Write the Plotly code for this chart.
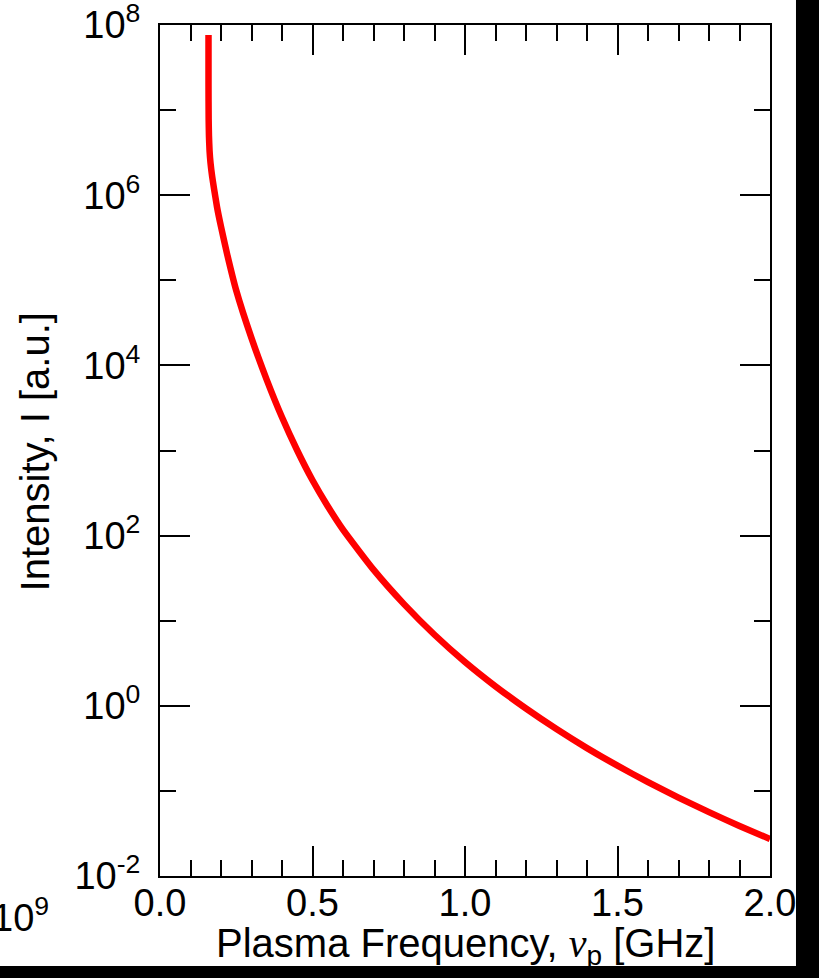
import plotly.graph_objects as go

# Plasma frequency [GHz] and log10 of intensity [a.u.] along the curve
nu_p = [0.1590, 0.1590, 0.1595, 0.1605, 0.1625, 0.1656, 0.1710, 0.1770,
        0.1870, 0.2000, 0.2200, 0.2500, 0.3000, 0.3500, 0.4000, 0.4500,
        0.5000, 0.5500, 0.6000, 0.7000, 0.8000, 0.9000, 1.0000, 1.1000,
        1.2000, 1.3000, 1.4000, 1.5000, 1.6000, 1.7000, 1.8000, 1.9000,
        2.0000]
log_intensity = [7.882, 7.300, 6.900, 6.700, 6.520, 6.380, 6.220, 6.080,
                 5.860, 5.630, 5.310, 4.880, 4.320, 3.830, 3.390, 3.000,
                 2.650, 2.345, 2.070, 1.600, 1.195, 0.835, 0.515, 0.229,
                 -0.032, -0.273, -0.497, -0.704, -0.898, -1.079, -1.250,
                 -1.412, -1.565]
intensity = [10 ** v for v in log_intensity]

# Axis ticks
x_major = [0.0, 0.5, 1.0, 1.5, 2.0]
x_major_text = ["0.0", "0.5", "1.0", "1.5", "2.0"]
x_minor = [round(0.1 * i, 1) for i in range(21) if i % 5]
y_major = [1e-2, 1e0, 1e2, 1e4, 1e6, 1e8]
y_major_text = ["10<sup>-2</sup>", "10<sup>0</sup>", "10<sup>2</sup>",
                "10<sup>4</sup>", "10<sup>6</sup>", "10<sup>8</sup>"]
y_minor = [1e-1, 1e1, 1e3, 1e5, 1e7]

FONT = "Liberation Sans, Arial, Helvetica, sans-serif"
TICK_SIZE = 38
TITLE_SIZE = 40

fig = go.Figure()
fig.add_trace(go.Scatter(
    x=nu_p, y=intensity, mode="lines",
    line=dict(color="#ff0000", width=6.5, shape="spline", smoothing=0.5),
    showlegend=False, hoverinfo="skip",
))

axis_common = dict(
    showline=True, linecolor="black", linewidth=2, mirror="ticks",
    ticks="inside", ticklen=30, tickwidth=2, tickcolor="black",
    showgrid=False, zeroline=False, ticklabeloverflow="allow",
    tickfont=dict(family=FONT, size=TICK_SIZE, color="black"),
)

fig.update_xaxes(
    range=[0, 2.0], tickvals=x_major, ticktext=x_major_text,
    minor=dict(tickvals=x_minor, ticks="inside", ticklen=16, tickwidth=2,
               tickcolor="black", showgrid=False),
    ticklabelstandoff=-8,
    **axis_common,
)
fig.update_yaxes(
    type="log", range=[-2, 8], tickvals=y_major, ticktext=y_major_text,
    minor=dict(tickvals=y_minor, ticks="inside", ticklen=16, tickwidth=2,
               tickcolor="black", showgrid=False),
    ticklabelstandoff=10,
    **axis_common,
)

# Axis titles
fig.add_annotation(
    text="Plasma Frequency, <i><span style=\"font-family:'Liberation Serif', 'Times New Roman', serif\">ν</span></i><sub>p</sub> [GHz]",
    xref="paper", yref="paper", x=0.5, y=-0.0823,
    xanchor="center", yanchor="middle", showarrow=False,
    font=dict(family=FONT, size=TITLE_SIZE, color="black"))
fig.add_annotation(
    text="Intensity, I [a.u.]", textangle=-90,
    xref="paper", yref="paper", x=-0.2049, y=0.4977,
    xanchor="center", yanchor="middle", showarrow=False,
    font=dict(family=FONT, size=TITLE_SIZE, color="black"))

# Black frame strips along the right and bottom edges of the page
fig.add_shape(type="rect", xref="paper", yref="paper",
              x0=1.0426, x1=1.2, y0=-0.2, y1=1.1,
              fillcolor="black", line_width=0, layer="above")
fig.add_shape(type="rect", xref="paper", yref="paper",
              x0=-0.3, x1=1.2, y0=-0.2, y1=-0.1058,
              fillcolor="black", line_width=0, layer="above")

# Label of the neighbouring panel, cut by the left page edge
fig.add_annotation(text="10<sup>9</sup>", xref="paper", yref="paper",
                   x=-0.178, y=-0.046, xanchor="right", yanchor="middle",
                   showarrow=False,
                   font=dict(family=FONT, size=TICK_SIZE, color="black"))

fig.update_layout(
    width=819, height=978,
    margin=dict(l=160, r=49, t=25, b=102, autoexpand=False),
    paper_bgcolor="white", plot_bgcolor="white",
)

fig.write_html("out.html")
